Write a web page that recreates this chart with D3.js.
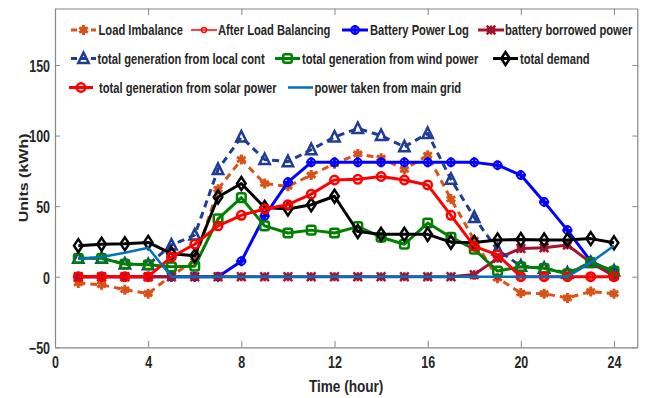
<!DOCTYPE html>
<html>
<head>
<meta charset="utf-8">
<script src="https://cdn.jsdelivr.net/npm/d3@7"></script>
<style>
  html, body { margin: 0; padding: 0; background: #fff; }
  svg text { font-family: "Liberation Sans", Arial, sans-serif; font-weight: bold; fill: #262626; }
</style>
</head>
<body>
<svg id="chart" width="646" height="398"></svg>
<script>
// Hourly energy balance of a micro-grid over one day
const hours = [1, 2, 3, 4, 5, 6, 7, 8, 9, 10, 11, 12, 13, 14, 15, 16, 17, 18, 19, 20, 21, 22, 23, 24];

const loadImbalance   = [-4.5, -5.7, -9.2, -12, 1, 11, 62, 83, 66, 64, 72, 80, 87, 84, 76, 86, 55, 26, -1, -11.5, -12, -15, -10.5, -12];
const afterBalancing  = [0, 0, 0, 0, 0, 0, 0, 0, 0, 0, 0, 0, 0, 0, 0, 0, 0, 0, 0, 0, 0, 0, 0, 0];
const batteryLog      = [0, 0, 0, 0, 0, 0, 0, 11, 43, 67, 81, 81, 81, 81, 81, 81, 81, 81, 79, 72, 53, 33, 11, 3];
const batteryBorrowed = [0, 0, 0, 0, 0, 0, 0, 0, 0, 0, 0, 0, 0, 0, 0, 0, 0, 1.5, 13, 20, 20.5, 22.5, 10, 0.5];
const localGeneration = [13, 13, 9, 8.5, 22.5, 29.5, 76, 99, 83, 81.5, 90, 99, 105, 100, 92, 101.5, 69, 42, 19, 7.5, 6, 2.5, 10, 4];
const windGeneration  = [13, 13, 9, 8.5, 7, 7.5, 41, 56, 36, 31, 33, 31, 35.5, 28, 23, 38, 28, 19.5, 4, 7, 6, 2, 10, 4];
const totalDemand     = [22, 23, 23.3, 24.3, 16.3, 14.8, 56.5, 66, 49, 48, 51, 57, 32, 30, 30, 30, 24.5, 24.3, 26, 26.3, 26, 26, 27, 24];
const solarGeneration = [0, 0, 0, 0, 14, 23, 36, 43.5, 48, 51, 58.5, 68.5, 69, 71, 68.5, 65, 43.5, 21.5, 15.5, 0, 0, 0, 0, 0];
const mainGrid        = [12.5, 14, 17, 20.5, 0, 0, 0, 0, 0, 0, 0, 0, 0, 0, 0, 0, 0, 0, 0, 0, 0, 0, 10, 22];

const xTicks = [0, 4, 8, 12, 16, 20, 24];
const yTicks = [-50, 0, 50, 100, 150];
const xLabel = "Time (hour)";
const yLabel = "Units (kWh)";

const series = [
  { name: "Load Imbalance", values: loadImbalance, color: "#D95319", width: 3, dash: "7,5", marker: "asterisk" },
  { name: "After Load Balancing", values: afterBalancing, color: "#FF0000", width: 1.5, dash: null, marker: "circleSmall" },
  { name: "Battery Power Log", values: batteryLog, color: "#0000FF", width: 3, dash: null, marker: "plus" },
  { name: "battery borrowed power", values: batteryBorrowed, color: "#A2142F", width: 3, dash: null, marker: "star" },
  { name: "total generation from local cont", values: localGeneration, color: "#1F3C96", width: 3, dash: "7,5", marker: "triangle" },
  { name: "total generation from wind power", values: windGeneration, color: "#008000", width: 3, dash: null, marker: "square" },
  { name: "total demand", values: totalDemand, color: "#000000", width: 3, dash: null, marker: "diamond" },
  { name: "total generation from solar power", values: solarGeneration, color: "#FF0000", width: 3, dash: null, marker: "circle" },
  { name: "power taken from main grid", values: mainGrid, color: "#0072BD", width: 2.5, dash: null, marker: null }
];

const svg = d3.select("#chart");
const x = d3.scaleLinear().domain([0, 25]).range([55, 637.3]);
const y = d3.scaleLinear().domain([-50, 190]).range([347.3, 8.5]);

const axisColor = "#888";
const SQ = 0.78; // horizontal squeeze of the narrow bold lettering

// frame axes with inward ticks
const gx = svg.append("g").attr("transform", `translate(0,${y(-50)})`)
  .call(d3.axisBottom(x).tickValues(xTicks).tickSizeInner(-6.5).tickSizeOuter(0).tickPadding(9));
const gxTop = svg.append("g").attr("transform", `translate(0,${y(190)})`)
  .call(d3.axisTop(x).tickValues(xTicks).tickSizeInner(-6.5).tickSizeOuter(0).tickFormat(""));
const gy = svg.append("g").attr("transform", `translate(${x(0)},0)`)
  .call(d3.axisLeft(y).tickValues(yTicks).tickSizeInner(-5).tickSizeOuter(0).tickPadding(5));
const gyRight = svg.append("g").attr("transform", `translate(${x(25)},0)`)
  .call(d3.axisRight(y).tickValues(yTicks).tickSizeInner(-5).tickSizeOuter(0).tickFormat(""));

[gx, gxTop, gy, gyRight].forEach(g => {
  g.select(".domain").attr("stroke", axisColor).attr("stroke-width", 1.2);
  g.selectAll(".tick line").attr("stroke", axisColor).attr("stroke-width", 1);
});
gx.selectAll(".tick text")
  .attr("font-size", 16).attr("font-family", null).attr("fill", "#262626")
  .attr("transform", `scale(${SQ},1)`);
gy.selectAll(".tick text")
  .attr("font-size", 16).attr("font-family", null).attr("fill", "#262626")
  .attr("x", -5 / SQ).attr("dy", "0.4em")
  .attr("transform", `scale(${SQ},1)`);

// axis titles
svg.append("text")
  .attr("transform", `translate(${(x(0) + x(25)) / 2},${392}) scale(0.85,1)`)
  .attr("text-anchor", "middle").attr("font-size", 16).text(xLabel);
svg.append("text")
  .attr("transform", `translate(${28},${(y(-50) + y(190)) / 2}) rotate(-90) scale(1,0.85)`)
  .attr("text-anchor", "middle").attr("font-size", 16).text(yLabel);

// marker shapes
function drawMarker(g, type, color, cx, cy) {
  const m = g.append("g").attr("transform", `translate(${cx},${cy})`);
  switch (type) {
    case "asterisk":
      m.append("path").attr("d", d3.symbol(d3.symbolAsterisk, 70)()).attr("stroke", color).attr("stroke-width", 3).attr("fill", "none");
      m.append("circle").attr("r", 3.2).attr("fill", color);
      break;
    case "circleSmall":
      m.append("circle").attr("r", 2.5).attr("fill", "none").attr("stroke", color).attr("stroke-width", 1.3);
      break;
    case "plus":
      m.append("circle").attr("r", 3.8).attr("fill", "none").attr("stroke", color).attr("stroke-width", 2);
      m.append("path").attr("d", "M-5,0H5M0,-5V5").attr("stroke", color).attr("stroke-width", 2.5);
      break;
    case "star":
      m.append("path").attr("d", d3.symbol(d3.symbolAsterisk, 55)()).attr("stroke", color).attr("stroke-width", 2.5).attr("fill", "none");
      m.append("path").attr("d", d3.symbol(d3.symbolX, 50)()).attr("stroke", color).attr("stroke-width", 2.5).attr("fill", "none");
      break;
    case "triangle":
      m.append("path").attr("d", "M0,-6L5.2,4.5L-5.2,4.5Z").attr("fill", "none").attr("stroke", color).attr("stroke-width", 2.5);
      break;
    case "square":
      m.append("rect").attr("x", -4.3).attr("y", -4.3).attr("width", 8.6).attr("height", 8.6).attr("rx", 2)
        .attr("fill", "none").attr("stroke", color).attr("stroke-width", 2.5);
      break;
    case "diamond":
      m.append("path").attr("d", "M0,-6.5L4.3,0L0,6.5L-4.3,0Z").attr("fill", "none").attr("stroke", color).attr("stroke-width", 2.5);
      break;
    case "circle":
      m.append("circle").attr("r", 4.2).attr("fill", "none").attr("stroke", color).attr("stroke-width", 2.5);
      break;
  }
}

// series lines and markers
const line = d3.line().x((d, i) => x(hours[i])).y(d => y(d));
const plot = svg.append("g");
series.forEach(s => {
  const g = plot.append("g");
  g.append("path").datum(s.values).attr("d", line)
    .attr("fill", "none").attr("stroke", s.color).attr("stroke-width", s.width)
    .attr("stroke-linejoin", "round").attr("stroke-dasharray", s.dash);
  if (s.marker) s.values.forEach((v, i) => drawMarker(g, s.marker, s.color, x(hours[i]), y(v)));
});

// legend, three rows inside the plot area
const legendLayout = [
  { row: 0, x1: 71, x2: 96, tx: 98.5 },
  { row: 0, x1: 191, x2: 217, tx: 218 },
  { row: 0, x1: 342, x2: 368, tx: 370 },
  { row: 0, x1: 478, x2: 504, tx: 505 },
  { row: 1, x1: 71, x2: 96, tx: 97.5 },
  { row: 1, x1: 275, x2: 300, tx: 302 },
  { row: 1, x1: 493, x2: 518, tx: 520 },
  { row: 2, x1: 69, x2: 93, tx: 99 },
  { row: 2, x1: 288, x2: 313, tx: 314.5 }
];
const rowY = [30, 58.5, 87.5];
const legend = svg.append("g");
series.forEach((s, i) => {
  const L = legendLayout[i];
  const cy = rowY[L.row];
  legend.append("line").attr("x1", L.x1).attr("x2", L.x2).attr("y1", cy).attr("y2", cy)
    .attr("stroke", s.color).attr("stroke-width", s.width).attr("stroke-dasharray", s.dash ? "6,4" : null);
  if (s.marker) drawMarker(legend, s.marker, s.color, (L.x1 + L.x2) / 2, cy);
  legend.append("text")
    .attr("transform", `translate(${L.tx},${cy + 5}) scale(0.8,1)`)
    .attr("font-size", 14).attr("fill", "#000").text(s.name);
});
</script>
</body>
</html>
